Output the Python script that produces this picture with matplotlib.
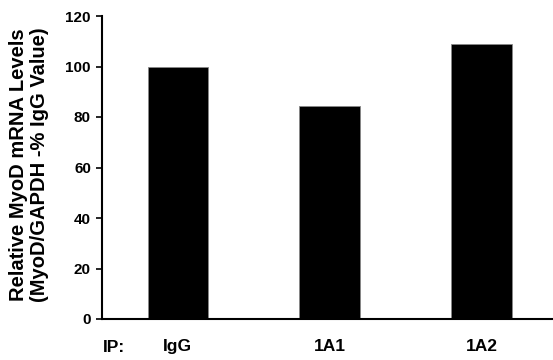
import matplotlib
matplotlib.use("Agg")
import matplotlib.pyplot as plt

plt.rcParams['font.family'] = ['Liberation Sans', 'DejaVu Sans']
plt.rcParams['font.weight'] = 'bold'

categories = ["IgG", "1A1", "1A2"]
values = [100, 84.5, 109]
yticks = [0, 20, 40, 60, 80, 100, 120]

fig = plt.figure(figsize=(5.53, 3.6), dpi=100)
ax = fig.add_axes([102/553, 1 - 319/360, 1 - 102/553, (319 - 16)/360])

x = list(range(len(categories)))
ax.bar(x, values, width=0.4, color='black', edgecolor='#888888', linewidth=0.6)

ax.set_xlim(-0.5, 2.47)
ax.set_ylim(0, 120)
ax.set_yticks(yticks)
ax.set_yticklabels([str(t) for t in yticks], fontsize=11, fontweight='bold')
ax.set_xticks(x)
ax.set_xticklabels(categories, fontsize=12.5, fontweight='bold')
ax.tick_params(axis='x', length=0, pad=14.5)
ax.tick_params(axis='y', length=4, width=1.2, direction='out', pad=4)

for side in ('top', 'right'):
    ax.spines[side].set_visible(False)
for side in ('left', 'bottom'):
    ax.spines[side].set_linewidth(1.5)

ax.text(0.003, -0.095, "IP:", transform=ax.transAxes, ha='left', va='center',
        fontsize=12.5, fontweight='bold')

fig.text(0.053, 1 - 165/360, "Relative MyoD mRNA Levels\n(MyoD/GAPDH -% IgG Value)",
         rotation=90, ha='center', va='center', multialignment='center',
         fontsize=14.5, fontweight='bold', linespacing=1.12)

fig.savefig("out.png", dpi=100)
